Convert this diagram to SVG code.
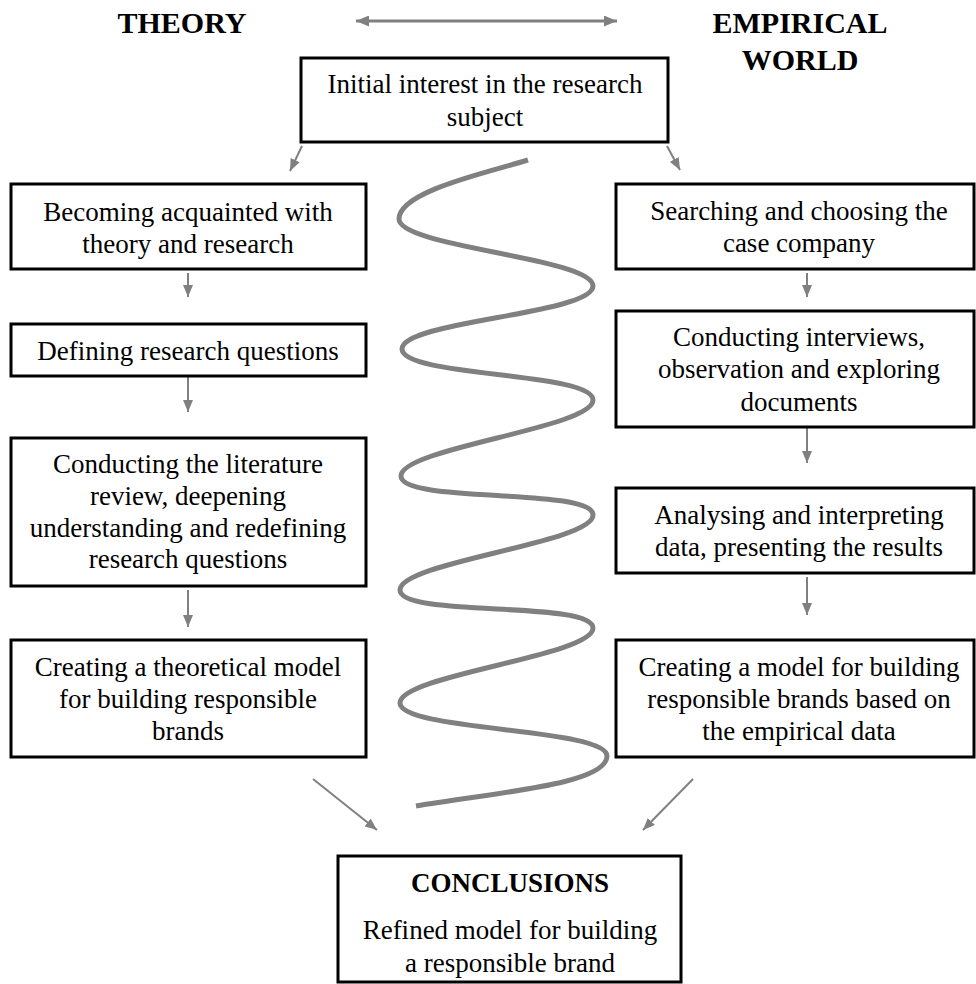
<svg xmlns="http://www.w3.org/2000/svg" width="976" height="984" viewBox="0 0 976 984">
  <style>
    .box { fill: #ffffff; stroke: #000000; stroke-width: 3; }
    .txt { font-family: "Liberation Serif", "Times New Roman", serif; font-size: 27px; fill: #000000; text-anchor: middle; }
    .head { font-family: "Liberation Serif", "Times New Roman", serif; font-size: 30px; font-weight: bold; fill: #000000; text-anchor: middle; }
    .bold { font-weight: bold; }
    .conn { stroke: #808080; stroke-width: 2; fill: none; marker-end: url(#arrow); }
    .spiral { stroke: #808080; stroke-width: 5; fill: none; stroke-linecap: butt; }
  </style>
  <defs>
    <marker id="arrow" markerUnits="userSpaceOnUse" markerWidth="12" markerHeight="10" refX="12" refY="5" orient="auto">
      <path d="M0,0 L12,5 L0,10 z" fill="#808080"/>
    </marker>
    <marker id="arrow2" markerUnits="userSpaceOnUse" markerWidth="13" markerHeight="11" refX="13" refY="5.5" orient="auto-start-reverse">
      <path d="M0,0 L13,5.5 L0,11 z" fill="#808080"/>
    </marker>
  </defs>

  <rect width="976" height="984" fill="#ffffff"/>

  <!-- column headings -->
  <g id="heading-theory">
    <text class="head" x="182" y="33">THEORY</text>
  </g>
  <g id="heading-empirical">
    <text class="head" x="800" y="33">EMPIRICAL</text>
    <text class="head" x="800" y="70">WORLD</text>
  </g>

  <!-- the back-and-forth between theory and empirical work -->
  <path class="spiral" d="M528,160 C490,172 399,191 399,219 C399,247 593,258 593,286 C593,314 402,321 402,349 C402,377 593,372 593,400 C593,428 401,448 401,476 C401,504 593,487 593,515 C593,543 400,562 400,590 C400,618 593,600 593,628 C593,656 400,675 400,703 C400,731 607,728 607,756 C607,784 500,792 416,806"/>

  <g id="connectors">
    <line x1="356" y1="21" x2="617" y2="21" stroke="#808080" stroke-width="3" marker-start="url(#arrow2)" marker-end="url(#arrow2)"/>
    <line class="conn" x1="302" y1="146" x2="290" y2="171"/>
    <line class="conn" x1="667" y1="146" x2="680" y2="170"/>
    <line class="conn" x1="188" y1="273" x2="188" y2="297"/>
    <line class="conn" x1="188" y1="377" x2="188" y2="412"/>
    <line class="conn" x1="188" y1="590" x2="188" y2="627"/>
    <line class="conn" x1="807" y1="273" x2="807" y2="297"/>
    <line class="conn" x1="807" y1="428" x2="807" y2="463"/>
    <line class="conn" x1="807" y1="577" x2="807" y2="615"/>
    <line class="conn" x1="313" y1="779" x2="377" y2="830"/>
    <line class="conn" x1="693" y1="779" x2="643" y2="830"/>
  </g>

  <g id="initial-interest">
    <rect class="box" x="301" y="58" width="367" height="84"/>
    <text class="txt" x="485" y="93">Initial interest in the research</text>
    <text class="txt" x="485" y="126">subject</text>
  </g>

  <g id="acquainted">
    <rect class="box" x="11" y="184" width="355" height="85"/>
    <text class="txt" x="188" y="221">Becoming acquainted with</text>
    <text class="txt" x="188" y="253">theory and research</text>
  </g>

  <g id="defining-questions">
    <rect class="box" x="11" y="324" width="355" height="52"/>
    <text class="txt" x="188" y="360">Defining research questions</text>
  </g>

  <g id="literature-review">
    <rect class="box" x="11" y="438" width="355" height="148"/>
    <text class="txt" x="188" y="473">Conducting the literature</text>
    <text class="txt" x="188" y="505">review, deepening</text>
    <text class="txt" x="188" y="537">understanding and redefining</text>
    <text class="txt" x="188" y="568">research questions</text>
  </g>

  <g id="theoretical-model">
    <rect class="box" x="11" y="640" width="355" height="117"/>
    <text class="txt" x="188" y="676">Creating a theoretical model</text>
    <text class="txt" x="188" y="708">for building responsible</text>
    <text class="txt" x="188" y="740">brands</text>
  </g>

  <g id="case-company">
    <rect class="box" x="616" y="184" width="358" height="85"/>
    <text class="txt" x="799" y="220">Searching and choosing the</text>
    <text class="txt" x="799" y="252">case company</text>
  </g>

  <g id="interviews">
    <rect class="box" x="616" y="311" width="358" height="116"/>
    <text class="txt" x="799" y="346">Conducting interviews,</text>
    <text class="txt" x="799" y="378">observation and exploring</text>
    <text class="txt" x="799" y="411">documents</text>
  </g>

  <g id="analysing">
    <rect class="box" x="616" y="488" width="358" height="85"/>
    <text class="txt" x="799" y="524">Analysing and interpreting</text>
    <text class="txt" x="799" y="556">data, presenting the results</text>
  </g>

  <g id="empirical-model">
    <rect class="box" x="616" y="640" width="358" height="117"/>
    <text class="txt" x="799" y="676">Creating a model for building</text>
    <text class="txt" x="799" y="708">responsible brands based on</text>
    <text class="txt" x="799" y="740">the empirical data</text>
  </g>

  <g id="conclusions">
    <rect class="box" x="338" y="856" width="343" height="126"/>
    <text class="txt bold" x="510" y="892">CONCLUSIONS</text>
    <text class="txt" x="510" y="939">Refined model for building</text>
    <text class="txt" x="510" y="972">a responsible brand</text>
  </g>
</svg>
